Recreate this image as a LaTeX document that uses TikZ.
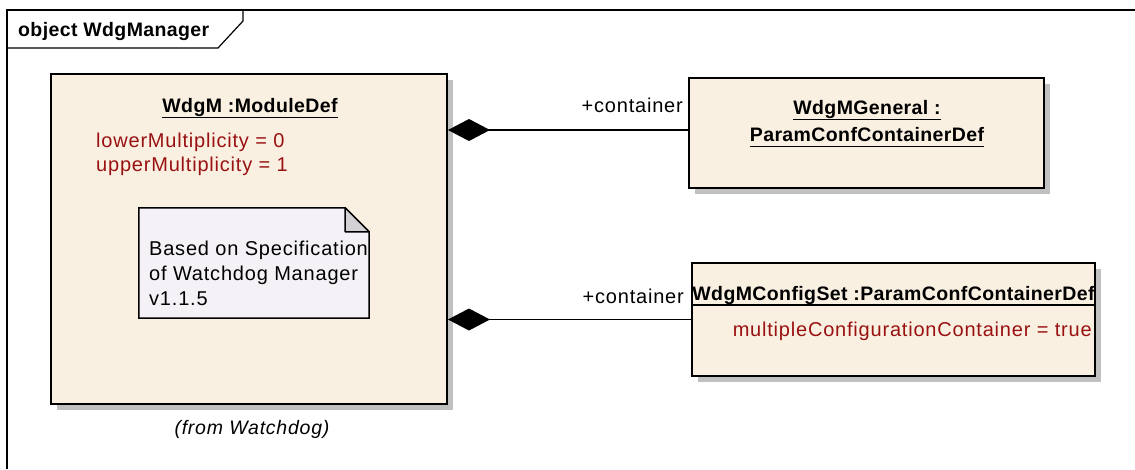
\documentclass[tikz,border=0pt]{standalone}
\usepackage{fontspec}
\setmainfont{Liberation Sans}[LetterSpace=4]
\newfontfamily\hdfont{Liberation Sans}[LetterSpace=2]
\usetikzlibrary{arrows.meta,shadows}
\definecolor{boxfill}{RGB}{250,240,226}
\definecolor{notefill}{RGB}{245,242,247}
\definecolor{foldfill}{RGB}{211,208,214}
\definecolor{attrred}{RGB}{153,17,17}
\definecolor{shadowgray}{RGB}{192,192,192}
\begin{document}
\begin{tikzpicture}[x=1pt,y=-1pt,
  objbox/.style={draw=black, line width=2pt, fill=boxfill, rectangle, inner sep=0pt,
    drop shadow={shadow xshift=6pt, shadow yshift=-6pt, fill=shadowgray, opacity=1}},
  txt/.style={inner sep=0pt, font=\fontsize{20}{25}\selectfont, text=black},
  attr/.style={txt, text=attrred},
  hd/.style={inner sep=0pt, font=\hdfont\bfseries\fontsize{19.5}{25}\selectfont, text=black},
  uline/.style={line width=1.3pt},
  frameline/.style={line width=1.2pt},
  comp/.style={line width=1.6pt, -{Diamond[length=42pt,width=22pt]}},
  notestyle/.style={draw=black, line width=1.5pt, fill=notefill}]
\fill[white] (0,0) rectangle (1135,469);
\useasboundingbox (0,0) rectangle (1135,469);
% frame
\draw[frameline] (7,469) -- (7,10) -- (1135,10);
\draw[frameline] (7,48) -- (218,48) -- (243,21) -- (243,10);
\node[hd, anchor=base west] (title) at (18,36) {object WdgManager};
% main box
\node[objbox, minimum width=396pt, minimum height=330pt] (main) at (249,239) {};
\node[hd, anchor=base] (mainT) at (250,112) {WdgM :ModuleDef};
\draw[uline] ([yshift=-5.5pt]mainT.base west) -- ([yshift=-5.5pt]mainT.base east);
\node[attr, anchor=base west] (lm) at (96,147) {lowerMultiplicity = 0};
\node[attr, anchor=base west] (um) at (96,171) {upperMultiplicity = 1};
% note
\node[minimum width=230pt, minimum height=110pt, inner sep=0pt] (note) at (254,263) {};
\draw[notestyle] (note.north west) -- ([xshift=-24pt]note.north east) -- ([yshift=-24pt]note.north east) -- (note.south east) -- (note.south west) -- cycle;
\draw[notestyle, fill=foldfill, line join=round] ([xshift=-24pt]note.north east) -- ([xshift=-24pt,yshift=-24pt]note.north east) -- ([yshift=-24pt]note.north east) -- cycle;
\node[txt, anchor=base west] (n1) at (149,255) {Based on Specification};
\node[txt, anchor=base west] (n2) at (149,280) {of Watchdog Manager};
\node[txt, anchor=base west] (n3) at (149,305) {v1.1.5};
\node[txt, font=\itshape\fontsize{19.5}{25}\selectfont, anchor=base] (from) at (252,434) {(from Watchdog)};
% upper right box
\node[objbox, minimum width=355pt, minimum height=110pt] (gen) at (866.5,133) {};
\node[hd, anchor=base] (g1) at (867,114) {WdgMGeneral :};
\draw[uline] ([yshift=-5.5pt]g1.base west) -- ([yshift=-5.5pt]g1.base east);
\node[hd, anchor=base] (g2) at (867,141) {ParamConfContainerDef};
\draw[uline] ([yshift=-5.5pt]g2.base west) -- ([yshift=-5.5pt]g2.base east);
% lower right box
\node[objbox, minimum width=403pt, minimum height=113pt] (cfg) at (893.5,319.5) {};
\node[hd, anchor=base] (c1) at (893.5,300) {WdgMConfigSet :ParamConfContainerDef};
\draw[uline] (cfg.west |- 0,305) -- (cfg.east |- 0,305);
\node[attr, anchor=base east] (c2) at (1092,336) {multipleConfigurationContainer = true};
% connectors
\coordinate (m1) at (main.east |- 0,130);
\draw[comp] (gen.west |- m1) -- (m1);
\draw[comp] (cfg.west) -- (main.east |- cfg.west);
\node[txt, anchor=base east] (l1) at (683,112) {+container};
\node[txt, anchor=base east] (l2) at (684,303) {+container};
\end{tikzpicture}
\end{document}
